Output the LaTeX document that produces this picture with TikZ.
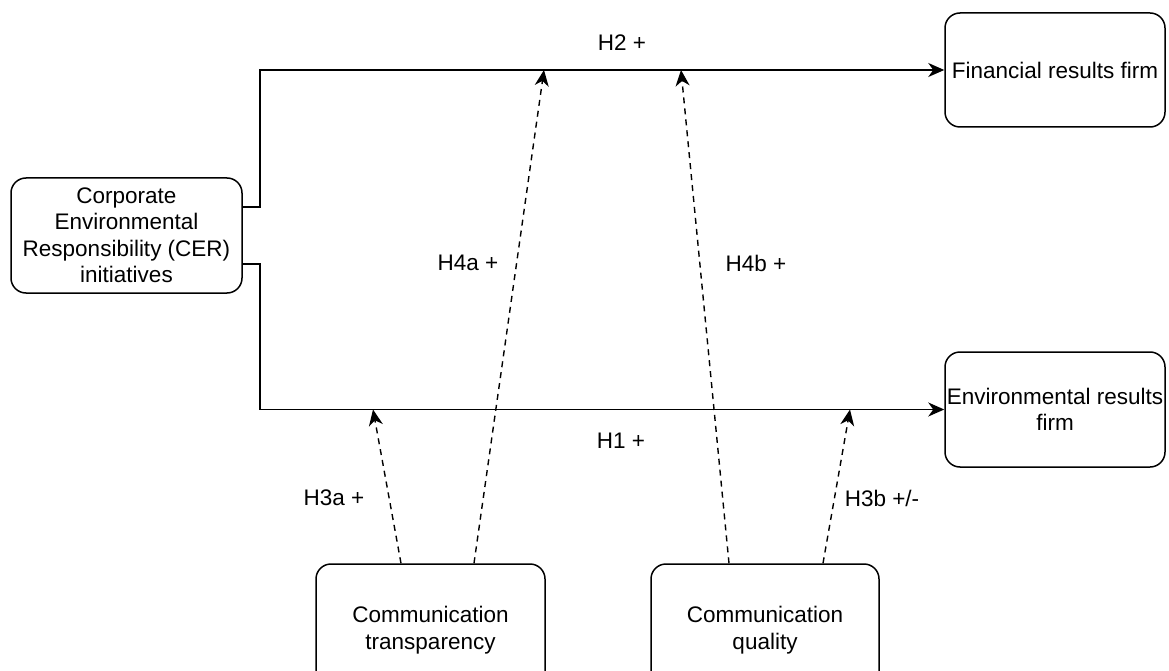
\documentclass[tikz,border=0pt]{standalone}
\usepackage{fontspec}
\setmainfont{Liberation Sans}
\usetikzlibrary{arrows.meta}
\begin{document}
\begin{tikzpicture}[x=1pt,y=-1pt,
  box/.style={draw, line width=1.5pt, rounded corners=15pt, align=center, inner sep=0pt, font=\fontsize{22.5}{26.5}\selectfont},
  lbl/.style={font=\fontsize{22.5}{26.5}\selectfont, inner sep=0pt},
  solidarr/.style={line width=1.5pt, -{Stealth[length=16pt,width=14pt,inset=5pt]}},
  dasharr/.style={line width=1.4pt, dash pattern=on 6pt off 5pt, -{Stealth[length=16pt,width=14pt,inset=5pt]}}]
\path[use as bounding box] (0,0) rectangle (1169,671);
\clip (0,0) rectangle (1169,671);
% boxes
\node[box, minimum width=231pt, minimum height=115pt] (cer) at (126.5,235.5) {Corporate\\Environmental\\Responsibility (CER)\\initiatives};
\node[box, minimum width=220pt, minimum height=114pt] (fin) at (1055,70) {Financial results firm};
\node[box, minimum width=220pt, minimum height=115pt] (env) at (1055,409.5) {Environmental results\\firm};
\node[box, minimum width=229pt, minimum height=132pt] (trans) at (430.5,630) {Communication\\transparency};
\node[box, minimum width=228pt, minimum height=132pt] (qual) at (765,630) {Communication\\quality};
% main paths
\draw[solidarr] ([yshift=28.5pt]cer.east) -- ++(17,0) |- (fin.west);
\draw[solidarr] ([yshift=-28.5pt]cer.east) -- ++(17,0) |- (env.west);
% moderation targets
\coordinate (t3a) at (373,409.5);
\coordinate (t4a) at (544,70);
\coordinate (t4b) at (681,70);
\coordinate (t3b) at (850,409.5);
\draw[dasharr] ([xshift=-29.5pt]trans.north) -- (t3a);
\draw[dasharr] ([xshift=43.5pt]trans.north) -- (t4a);
\draw[dasharr] ([xshift=-36pt]qual.north) -- (t4b);
\draw[dasharr] ([xshift=58pt]qual.north) -- (t3b);
% labels
\node[lbl] (h2) at (622,43) {H2 +};
\node[lbl] (h1) at (621,441) {H1 +};
\node[lbl] (h4a) at (468,263) {H4a +};
\node[lbl] (h4b) at (756,263) {H4b +};
\node[lbl] (h3a) at (334,498) {H3a +};
\node[lbl] (h3b) at (882,498) {H3b +/-};
\end{tikzpicture}
\end{document}
